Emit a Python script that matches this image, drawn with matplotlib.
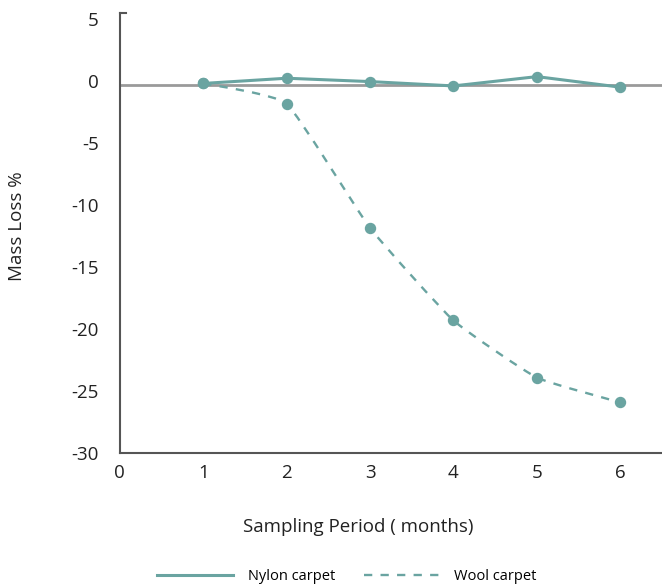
import numpy as np
import matplotlib.pyplot as plt
from matplotlib.path import Path
from matplotlib.patches import PathPatch
from matplotlib.lines import Line2D

plt.rcParams['font.family'] = ['Open Sans', 'DejaVu Sans']
plt.rcParams['axes.unicode_minus'] = False

# dados
meses = [1, 2, 3, 4, 5, 6]
nylon = [-0.2, 0.22, -0.05, -0.4, 0.35, -0.5]
la = [-0.2, -1.85, -11.85, -19.3, -23.9, -25.9]
linha_base = -0.32

cor = '#6aa4a1'
texto = '#222222'

fig = plt.figure(figsize=(6.62, 5.84), dpi=100)
ax = fig.add_axes([0.181, 1 - 453.3 / 584, 0.819, (453.3 - 12.7) / 584])

ax.axhline(linha_base, color='#9a9a9a', lw=2, zorder=1)

ax.plot(meses, nylon, color=cor, lw=2.2, marker='o', ms=7.2, zorder=3)
ax.plot(meses, la, color=cor, lw=0, marker='o', ms=7.2, zorder=3)

# curva suavizada (Bezier) para a lã
xs = np.array(meses, dtype=float)
ys = np.array(la, dtype=float)
fator = 0.07
verts = [(xs[0], ys[0])]
codes = [Path.MOVETO]
for i in range(len(xs) - 1):
    p0 = np.array([xs[max(i - 1, 0)], ys[max(i - 1, 0)]])
    p1 = np.array([xs[i], ys[i]])
    p2 = np.array([xs[i + 1], ys[i + 1]])
    p3 = np.array([xs[min(i + 2, len(xs) - 1)], ys[min(i + 2, len(xs) - 1)]])
    c1 = p1 + (p2 - p0) * fator
    c2 = p2 - (p3 - p1) * fator
    verts += [tuple(c1), tuple(c2), tuple(p2)]
    codes += [Path.CURVE4] * 3
curva = PathPatch(Path(verts, codes), facecolor='none', edgecolor=cor,
                  lw=1.7, linestyle=(0, (3.5, 3.5)), zorder=2)
ax.add_patch(curva)

ax.set_xlim(0, 6.5)
ax.set_ylim(-30, 5.5)
ax.set_xticks(range(0, 7))
ax.set_yticks(range(-30, 6, 5))
ax.tick_params(axis='both', length=0, labelsize=13.5, colors=texto)
ax.tick_params(axis='x', pad=8)
ax.tick_params(axis='y', pad=15)

for s in ['top', 'right']:
    ax.spines[s].set_visible(False)
for s in ['left', 'bottom']:
    ax.spines[s].set_color('#555555')
    ax.spines[s].set_linewidth(1.5)
ax.plot([0, 0.08], [5.5, 5.5], color='#555555', lw=1.5, clip_on=False)

fig.text(358 / 662, 1 - 527 / 584, 'Sampling Period ( months)', fontsize=13.5,
         color=texto, ha='center', va='center')
fig.text(17 / 662, 1 - 226 / 584, 'Mass Loss %', fontsize=13.5, color=texto,
         ha='center', va='center', rotation=90)

handles = [Line2D([], [], color=cor, lw=2.2),
           Line2D([], [], color=cor, lw=1.7, linestyle=(0, (3.5, 3.5)))]
fig.legend(handles, ['Nylon carpet', 'Wool carpet'], loc='center',
           bbox_to_anchor=(347 / 662, 1 - 577 / 584), ncol=2, frameon=False,
           fontsize=10.5, handlelength=5.2, columnspacing=2.0, handletextpad=1.0)

fig.savefig('out.png', dpi=100)
